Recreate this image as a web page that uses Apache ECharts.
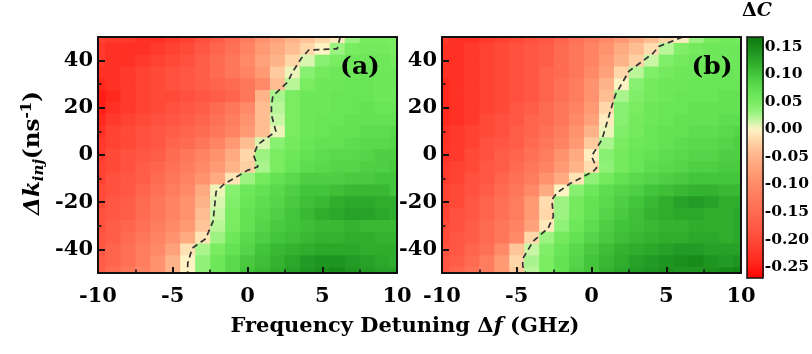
<!DOCTYPE html>
<html><head><meta charset="utf-8">
<script src="https://cdn.jsdelivr.net/npm/echarts@6/dist/echarts.min.js"></script>
<style>html,body{margin:0;padding:0;background:#fff}#c{width:812px;height:354px}</style>
</head><body><div id="c"></div>
<script>
// ---------- data ----------
const xValues = [-10,-9,-8,-7,-6,-5,-4,-3,-2,-1,0,1,2,3,4,5,6,7,8,9,10];
const yValues = [50,45,40,35,30,25,20,15,10,5,0,-5,-10,-15,-20,-25,-30,-35,-40,-45,-50];

// panel (a): rows follow yValues (top to bottom), columns follow xValues
const gridA = [
  [-0.21,-0.22,-0.22,-0.23,-0.23,-0.22,-0.21,-0.19,-0.17,-0.15,-0.12,-0.09,-0.07,-0.05,-0.035,-0.02,-0.005,0.03,0.05,0.05,0.05],
  [-0.22,-0.23,-0.23,-0.23,-0.22,-0.21,-0.2,-0.18,-0.16,-0.14,-0.11,-0.08,-0.06,-0.04,-0.02,0.0,0.03,0.05,0.055,0.055,0.05],
  [-0.22,-0.23,-0.23,-0.22,-0.21,-0.2,-0.19,-0.17,-0.15,-0.13,-0.1,-0.07,-0.05,-0.02,0.01,0.04,0.05,0.06,0.06,0.06,0.055],
  [-0.23,-0.23,-0.22,-0.21,-0.2,-0.19,-0.18,-0.17,-0.15,-0.13,-0.11,-0.08,-0.03,0.005,0.04,0.055,0.06,0.06,0.065,0.06,0.06],
  [-0.24,-0.23,-0.22,-0.21,-0.2,-0.19,-0.18,-0.17,-0.16,-0.15,-0.13,-0.1,-0.04,0.02,0.05,0.06,0.06,0.065,0.065,0.06,0.06],
  [-0.25,-0.24,-0.22,-0.21,-0.2,-0.2,-0.19,-0.18,-0.17,-0.16,-0.13,-0.05,0.025,0.05,0.06,0.06,0.065,0.065,0.065,0.06,0.06],
  [-0.25,-0.23,-0.22,-0.21,-0.2,-0.19,-0.18,-0.17,-0.15,-0.13,-0.1,-0.04,0.02,0.05,0.06,0.06,0.065,0.065,0.07,0.065,0.065],
  [-0.24,-0.22,-0.21,-0.2,-0.19,-0.18,-0.17,-0.16,-0.14,-0.12,-0.09,-0.04,0.015,0.05,0.06,0.065,0.065,0.07,0.07,0.07,0.07],
  [-0.23,-0.21,-0.2,-0.19,-0.18,-0.17,-0.16,-0.15,-0.13,-0.11,-0.08,-0.04,0.005,0.05,0.06,0.065,0.07,0.07,0.075,0.075,0.08],
  [-0.22,-0.21,-0.2,-0.19,-0.18,-0.16,-0.15,-0.13,-0.11,-0.08,-0.04,0.01,0.04,0.055,0.065,0.07,0.07,0.075,0.08,0.08,0.085],
  [-0.22,-0.2,-0.19,-0.18,-0.17,-0.15,-0.13,-0.11,-0.09,-0.06,-0.02,0.03,0.05,0.06,0.07,0.075,0.08,0.08,0.085,0.09,0.09],
  [-0.21,-0.2,-0.19,-0.17,-0.16,-0.14,-0.12,-0.1,-0.08,-0.05,-0.025,0.025,0.05,0.065,0.075,0.08,0.085,0.085,0.09,0.09,0.095],
  [-0.21,-0.19,-0.18,-0.17,-0.15,-0.13,-0.11,-0.09,-0.06,-0.01,0.03,0.055,0.07,0.08,0.09,0.09,0.09,0.095,0.095,0.1,0.1],
  [-0.2,-0.19,-0.18,-0.16,-0.14,-0.12,-0.1,-0.06,0.005,0.04,0.06,0.07,0.08,0.09,0.1,0.1,0.105,0.11,0.11,0.11,0.1],
  [-0.2,-0.18,-0.17,-0.15,-0.13,-0.11,-0.09,-0.05,0.01,0.045,0.065,0.075,0.085,0.095,0.105,0.11,0.12,0.125,0.125,0.12,0.12],
  [-0.19,-0.18,-0.17,-0.15,-0.13,-0.11,-0.09,-0.04,0.015,0.05,0.07,0.08,0.09,0.1,0.11,0.12,0.125,0.13,0.13,0.125,0.12],
  [-0.19,-0.17,-0.16,-0.14,-0.12,-0.1,-0.08,-0.035,0.02,0.05,0.07,0.085,0.095,0.1,0.105,0.11,0.11,0.115,0.11,0.11,0.11],
  [-0.18,-0.17,-0.15,-0.13,-0.11,-0.09,-0.06,-0.01,0.03,0.06,0.08,0.09,0.1,0.105,0.11,0.115,0.115,0.12,0.12,0.115,0.115],
  [-0.18,-0.16,-0.14,-0.12,-0.1,-0.07,-0.012,0.025,0.05,0.07,0.085,0.1,0.11,0.115,0.12,0.125,0.125,0.125,0.12,0.12,0.12],
  [-0.17,-0.16,-0.14,-0.12,-0.09,-0.05,0.0,0.035,0.06,0.08,0.095,0.105,0.115,0.125,0.135,0.14,0.14,0.135,0.13,0.125,0.12],
  [-0.17,-0.15,-0.13,-0.11,-0.09,-0.05,0.0,0.035,0.06,0.08,0.1,0.11,0.12,0.13,0.14,0.145,0.15,0.14,0.135,0.13,0.13]
];

// panel (b)
const gridB = [
  [-0.22,-0.23,-0.23,-0.22,-0.21,-0.2,-0.19,-0.18,-0.16,-0.14,-0.12,-0.1,-0.08,-0.06,-0.04,-0.02,-0.005,0.03,0.05,0.055,0.055],
  [-0.23,-0.23,-0.22,-0.21,-0.2,-0.19,-0.18,-0.17,-0.15,-0.13,-0.11,-0.09,-0.06,-0.04,-0.015,0.02,0.045,0.055,0.06,0.06,0.06],
  [-0.23,-0.23,-0.22,-0.21,-0.2,-0.19,-0.18,-0.17,-0.15,-0.13,-0.11,-0.08,-0.05,-0.025,0.015,0.045,0.055,0.06,0.06,0.06,0.06],
  [-0.23,-0.23,-0.22,-0.21,-0.2,-0.19,-0.18,-0.16,-0.15,-0.13,-0.1,-0.07,-0.02,0.02,0.045,0.055,0.06,0.06,0.065,0.065,0.06],
  [-0.24,-0.23,-0.22,-0.21,-0.2,-0.19,-0.18,-0.16,-0.14,-0.12,-0.09,-0.05,0.0,0.04,0.055,0.06,0.06,0.065,0.065,0.065,0.065],
  [-0.24,-0.23,-0.22,-0.21,-0.2,-0.19,-0.18,-0.16,-0.14,-0.12,-0.09,-0.04,0.025,0.045,0.055,0.06,0.065,0.065,0.065,0.07,0.07],
  [-0.24,-0.23,-0.22,-0.21,-0.2,-0.18,-0.17,-0.15,-0.13,-0.11,-0.08,-0.02,0.04,0.05,0.06,0.065,0.065,0.07,0.07,0.07,0.07],
  [-0.24,-0.23,-0.22,-0.2,-0.19,-0.18,-0.16,-0.15,-0.13,-0.1,-0.07,-0.005,0.04,0.055,0.06,0.065,0.07,0.07,0.07,0.075,0.075],
  [-0.23,-0.22,-0.21,-0.2,-0.19,-0.17,-0.16,-0.14,-0.12,-0.09,-0.05,0.005,0.045,0.055,0.065,0.07,0.07,0.075,0.075,0.08,0.085],
  [-0.23,-0.22,-0.21,-0.19,-0.18,-0.17,-0.15,-0.13,-0.11,-0.08,-0.03,0.025,0.05,0.06,0.065,0.07,0.075,0.08,0.08,0.085,0.09],
  [-0.23,-0.22,-0.2,-0.19,-0.17,-0.16,-0.14,-0.12,-0.09,-0.06,-0.003,0.04,0.055,0.065,0.07,0.075,0.08,0.085,0.085,0.09,0.09],
  [-0.22,-0.21,-0.2,-0.18,-0.17,-0.15,-0.13,-0.11,-0.08,-0.05,-0.015,0.035,0.055,0.065,0.075,0.08,0.085,0.09,0.09,0.095,0.095],
  [-0.22,-0.21,-0.19,-0.18,-0.16,-0.14,-0.12,-0.09,-0.06,-0.01,0.035,0.055,0.07,0.08,0.085,0.09,0.095,0.1,0.1,0.1,0.1],
  [-0.21,-0.2,-0.19,-0.17,-0.15,-0.13,-0.1,-0.06,0.0,0.04,0.06,0.075,0.085,0.09,0.1,0.105,0.11,0.115,0.115,0.11,0.11],
  [-0.21,-0.2,-0.18,-0.16,-0.14,-0.12,-0.08,-0.015,0.03,0.055,0.07,0.08,0.09,0.1,0.11,0.12,0.13,0.135,0.13,0.12,0.12],
  [-0.21,-0.19,-0.18,-0.16,-0.14,-0.12,-0.08,-0.02,0.03,0.055,0.07,0.085,0.095,0.105,0.115,0.12,0.125,0.125,0.12,0.12,0.125],
  [-0.2,-0.19,-0.17,-0.15,-0.13,-0.11,-0.07,-0.008,0.035,0.06,0.075,0.09,0.1,0.105,0.11,0.115,0.115,0.12,0.12,0.12,0.125],
  [-0.2,-0.18,-0.17,-0.15,-0.13,-0.1,-0.02,0.03,0.055,0.07,0.085,0.095,0.105,0.11,0.115,0.12,0.12,0.125,0.125,0.12,0.125],
  [-0.19,-0.18,-0.16,-0.14,-0.1,-0.035,0.015,0.045,0.065,0.08,0.095,0.105,0.115,0.12,0.125,0.13,0.135,0.135,0.13,0.13,0.13],
  [-0.18,-0.17,-0.15,-0.12,-0.08,-0.02,0.025,0.05,0.07,0.085,0.1,0.11,0.12,0.13,0.135,0.14,0.145,0.15,0.14,0.135,0.14],
  [-0.18,-0.16,-0.14,-0.12,-0.08,-0.03,0.02,0.05,0.07,0.09,0.1,0.115,0.125,0.135,0.14,0.145,0.14,0.14,0.145,0.15,0.155]
];

// zero contour (dashed) of each panel
const contourAX = [6.2,6.0,4.1,3.6,3.0,2.7,1.7,1.6,1.6,1.9,0.7,0.4,0.7,0.0,-1.6,-2.1,-2.3,-2.8,-3.7,-4.0,-4.0];
const contourAY = [50,45,44.5,41,35,31,25,21,17,10,4.5,0,-5,-6.5,-12.5,-15.5,-28,-35.5,-39.5,-46,-50];
const contourBX = [6.1,4.5,4.1,2.5,1.6,1.35,0.7,0.0,0.35,0.1,-1.4,-2.3,-2.65,-2.55,-2.9,-3.9,-4.6,-4.6,-4.4];
const contourBY = [50,46,43,35.5,25.5,20.5,6.5,-0.5,-5.5,-7,-12,-16,-19,-26,-31,-36.5,-44,-47,-50];

// ticks
const yMajorTicks = [-40,-20,0,20,40];
const yMinorTicks = [-30,-10,10,30];
const cbTicks = [-0.25,-0.2,-0.15,-0.1,-0.05,0,0.05,0.1,0.15];
const cbMin = -0.27, cbMax = 0.168;
const cbColors = ['#ff0000','#ff1a14','#ff2c20','#ff3a2c','#ff4836','#ff5440','#ff5e48','#ff6a50','#ff7458',
  '#ff7e60','#ff8868','#ff9672','#ffa47c','#ffb288','#ffc598','#ffdaac','#fff3c4','#c4f6a2','#92f27a',
  '#7aec62','#68e456','#56d64a','#42c43a','#32b02e','#239c24','#178a18','#0c7810'];

// ---------- build ----------
function cells(grid){
  const out = [];
  for (let r = 0; r < yValues.length; r++)
    for (let c = 0; c < xValues.length; c++) out.push([xValues[c], yValues[r], grid[r][c]]);
  return out;
}
function pairs(xs, ys){ return xs.map((x,i)=>[x, ys[i]]); }

const F = 'DejaVu Serif';
const BLK = '#111';
const lbl = {color:'#000', fontFamily:F, fontWeight:'bold', fontSize:21};

function renderCell(params, api){
  const x = api.value(0), y = api.value(1);
  const p1 = api.coord([x - 0.5, y + 2.5]);
  const p2 = api.coord([x + 0.5, y - 2.5]);
  const cs = params.coordSys;
  const rect = echarts.graphic.clipRectByRect(
    {x:p1[0], y:p1[1], width:p2[0]-p1[0]+0.7, height:p2[1]-p1[1]+0.7},
    {x:cs.x, y:cs.y, width:cs.width, height:cs.height});
  if (!rect) return;
  return {type:'rect', shape:rect, style:{fill: api.visual('color')}};
}

function xAxes(gi){
  return [
    {gridIndex:gi, type:'value', min:-10, max:10, interval:5, position:'bottom', z:10,
     axisLine:{show:true, onZero:false, lineStyle:{color:BLK, width:2}},
     axisTick:{show:true, inside:true, length:6, lineStyle:{color:BLK, width:2}},
     minorTick:{show:true, splitNumber:2, length:3.5, lineStyle:{color:BLK, width:1.5}},
     axisLabel:Object.assign({margin:13}, lbl), splitLine:{show:false}},
    {gridIndex:gi, type:'value', min:-10, max:10, position:'top', z:10,
     axisLine:{show:true, onZero:false, lineStyle:{color:BLK, width:2}},
     axisTick:{show:false}, axisLabel:{show:false}, splitLine:{show:false}}
  ];
}
function yAxes(gi){
  return [
    {gridIndex:gi, type:'value', min:-50, max:50, position:'left', z:10,
     axisLine:{show:true, onZero:false, lineStyle:{color:BLK, width:2}},
     axisTick:{show:true, inside:true, length:7, customValues:yMajorTicks, lineStyle:{color:BLK, width:2}},
     axisLabel:Object.assign({margin:5, customValues:yMajorTicks}, lbl), splitLine:{show:false}},
    {gridIndex:gi, type:'value', min:-50, max:50, position:'left', z:10,
     axisLine:{show:false, onZero:false},
     axisTick:{show:true, inside:true, length:3.5, customValues:yMinorTicks, lineStyle:{color:BLK, width:1.5}},
     axisLabel:{show:false}, splitLine:{show:false}},
    {gridIndex:gi, type:'value', min:-50, max:50, position:'right', z:10,
     axisLine:{show:true, onZero:false, lineStyle:{color:BLK, width:2}},
     axisTick:{show:false}, axisLabel:{show:false}, splitLine:{show:false}}
  ];
}

const dashStyle = {color:'#333', width:1.7, type:[6,4]};

const option = {
  animation:false,
  backgroundColor:'#fff',
  grid:[
    {left:98, top:37, width:299, height:236},
    {left:442, top:37, width:299, height:236},
    {left:747, top:37, width:17, height:241}
  ],
  xAxis:[].concat(xAxes(0), xAxes(1), [
    {gridIndex:2, type:'value', min:0, max:1, position:'bottom', z:10,
     axisLine:{show:true, onZero:false, lineStyle:{color:BLK, width:1.5}}, axisTick:{show:false}, axisLabel:{show:false}, splitLine:{show:false}},
    {gridIndex:2, type:'value', min:0, max:1, position:'top', z:10,
     axisLine:{show:true, onZero:false, lineStyle:{color:BLK, width:1.5}}, axisTick:{show:false}, axisLabel:{show:false}, splitLine:{show:false}}
  ]),
  yAxis:[].concat(yAxes(0), yAxes(1), [
    {gridIndex:2, type:'value', min:cbMin, max:cbMax, position:'right', z:10,
     axisLine:{show:true, onZero:false, lineStyle:{color:BLK, width:1.5}}, axisTick:{show:false},
     axisLabel:{show:true, customValues:cbTicks, margin:2, color:'#000', fontFamily:F, fontWeight:'bold', fontSize:15.5,
       formatter:v=>Number(v).toFixed(2)}, splitLine:{show:false}},
    {gridIndex:2, type:'value', min:cbMin, max:cbMax, position:'left', z:10,
     axisLine:{show:true, onZero:false, lineStyle:{color:BLK, width:1.5}}, axisTick:{show:false}, axisLabel:{show:false}, splitLine:{show:false}}
  ]),
  visualMap:[{
    type:'continuous', seriesIndex:[0,1], dimension:2, min:cbMin, max:cbMax,
    inRange:{color:cbColors}, orient:'vertical', left:747, top:37, itemWidth:17, itemHeight:241,
    padding:0, calculable:false, hoverLink:false, text:null, z:4
  }],
  series:[
    {type:'custom', name:'a', xAxisIndex:0, yAxisIndex:0, renderItem:renderCell, data:cells(gridA), z:2, silent:true},
    {type:'custom', name:'b', xAxisIndex:2, yAxisIndex:3, renderItem:renderCell, data:cells(gridB), z:2, silent:true},
    {type:'line', xAxisIndex:0, yAxisIndex:0, data:pairs(contourAX, contourAY), showSymbol:false, symbol:'none', lineStyle:dashStyle, z:5, silent:true},
    {type:'line', xAxisIndex:2, yAxisIndex:3, data:pairs(contourBX, contourBY), showSymbol:false, symbol:'none', lineStyle:dashStyle, z:5, silent:true}
  ],
  graphic:[
    {type:'text', x:405, y:327, z:20, style:{
      text:'{n|Frequency Detuning Δ}{i|f}{n| (GHz)}', align:'center', verticalAlign:'middle',
      textAlign:'center', textVerticalAlign:'middle', fill:'#000',
      rich:{n:{fontFamily:F, fontWeight:'bold', fontSize:21, fill:'#000'},
            i:{fontFamily:F, fontWeight:'bold', fontStyle:'italic', fontSize:21, fill:'#000'}}}},
    {type:'group', x:33, y:153, rotation:Math.PI/2, z:20, children:[
      {type:'text', x:0, y:0, style:{
        text:'{i|Δk}{sub|inj}{n|(ns}{sup|-1}{n|)}', align:'center', verticalAlign:'middle',
        textAlign:'center', textVerticalAlign:'middle', fill:'#000',
        rich:{n:{fontFamily:F, fontWeight:'bold', fontSize:23, fill:'#000'},
              i:{fontFamily:F, fontWeight:'bold', fontStyle:'italic', fontSize:23, fill:'#000'},
              sub:{fontFamily:F, fontWeight:'bold', fontStyle:'italic', fontSize:15, fill:'#000', padding:[12,0,0,0]},
              sup:{fontFamily:F, fontWeight:'bold', fontSize:15, fill:'#000', padding:[0,0,12,0]}}}}
    ]},
    {type:'text', x:757, y:11, z:20, style:{
      text:'{n|Δ}{i|C}', align:'center', verticalAlign:'middle', textAlign:'center', textVerticalAlign:'middle', fill:'#000',
      rich:{n:{fontFamily:F, fontWeight:'bold', fontSize:19, fill:'#000'},
            i:{fontFamily:F, fontWeight:'bold', fontStyle:'italic', fontSize:19, fill:'#000'}}}},
    {type:'text', x:360, y:67, z:20, style:{text:'(a)', font:'bold 25px "DejaVu Serif"', fill:'#000',
      align:'center', verticalAlign:'middle', textAlign:'center', textVerticalAlign:'middle'}},
    {type:'text', x:712, y:67, z:20, style:{text:'(b)', font:'bold 25px "DejaVu Serif"', fill:'#000',
      align:'center', verticalAlign:'middle', textAlign:'center', textVerticalAlign:'middle'}}
  ]
};

const chart = echarts.init(document.getElementById('c'), null, {renderer:'canvas'});
chart.setOption(option);
</script>
</body></html>
